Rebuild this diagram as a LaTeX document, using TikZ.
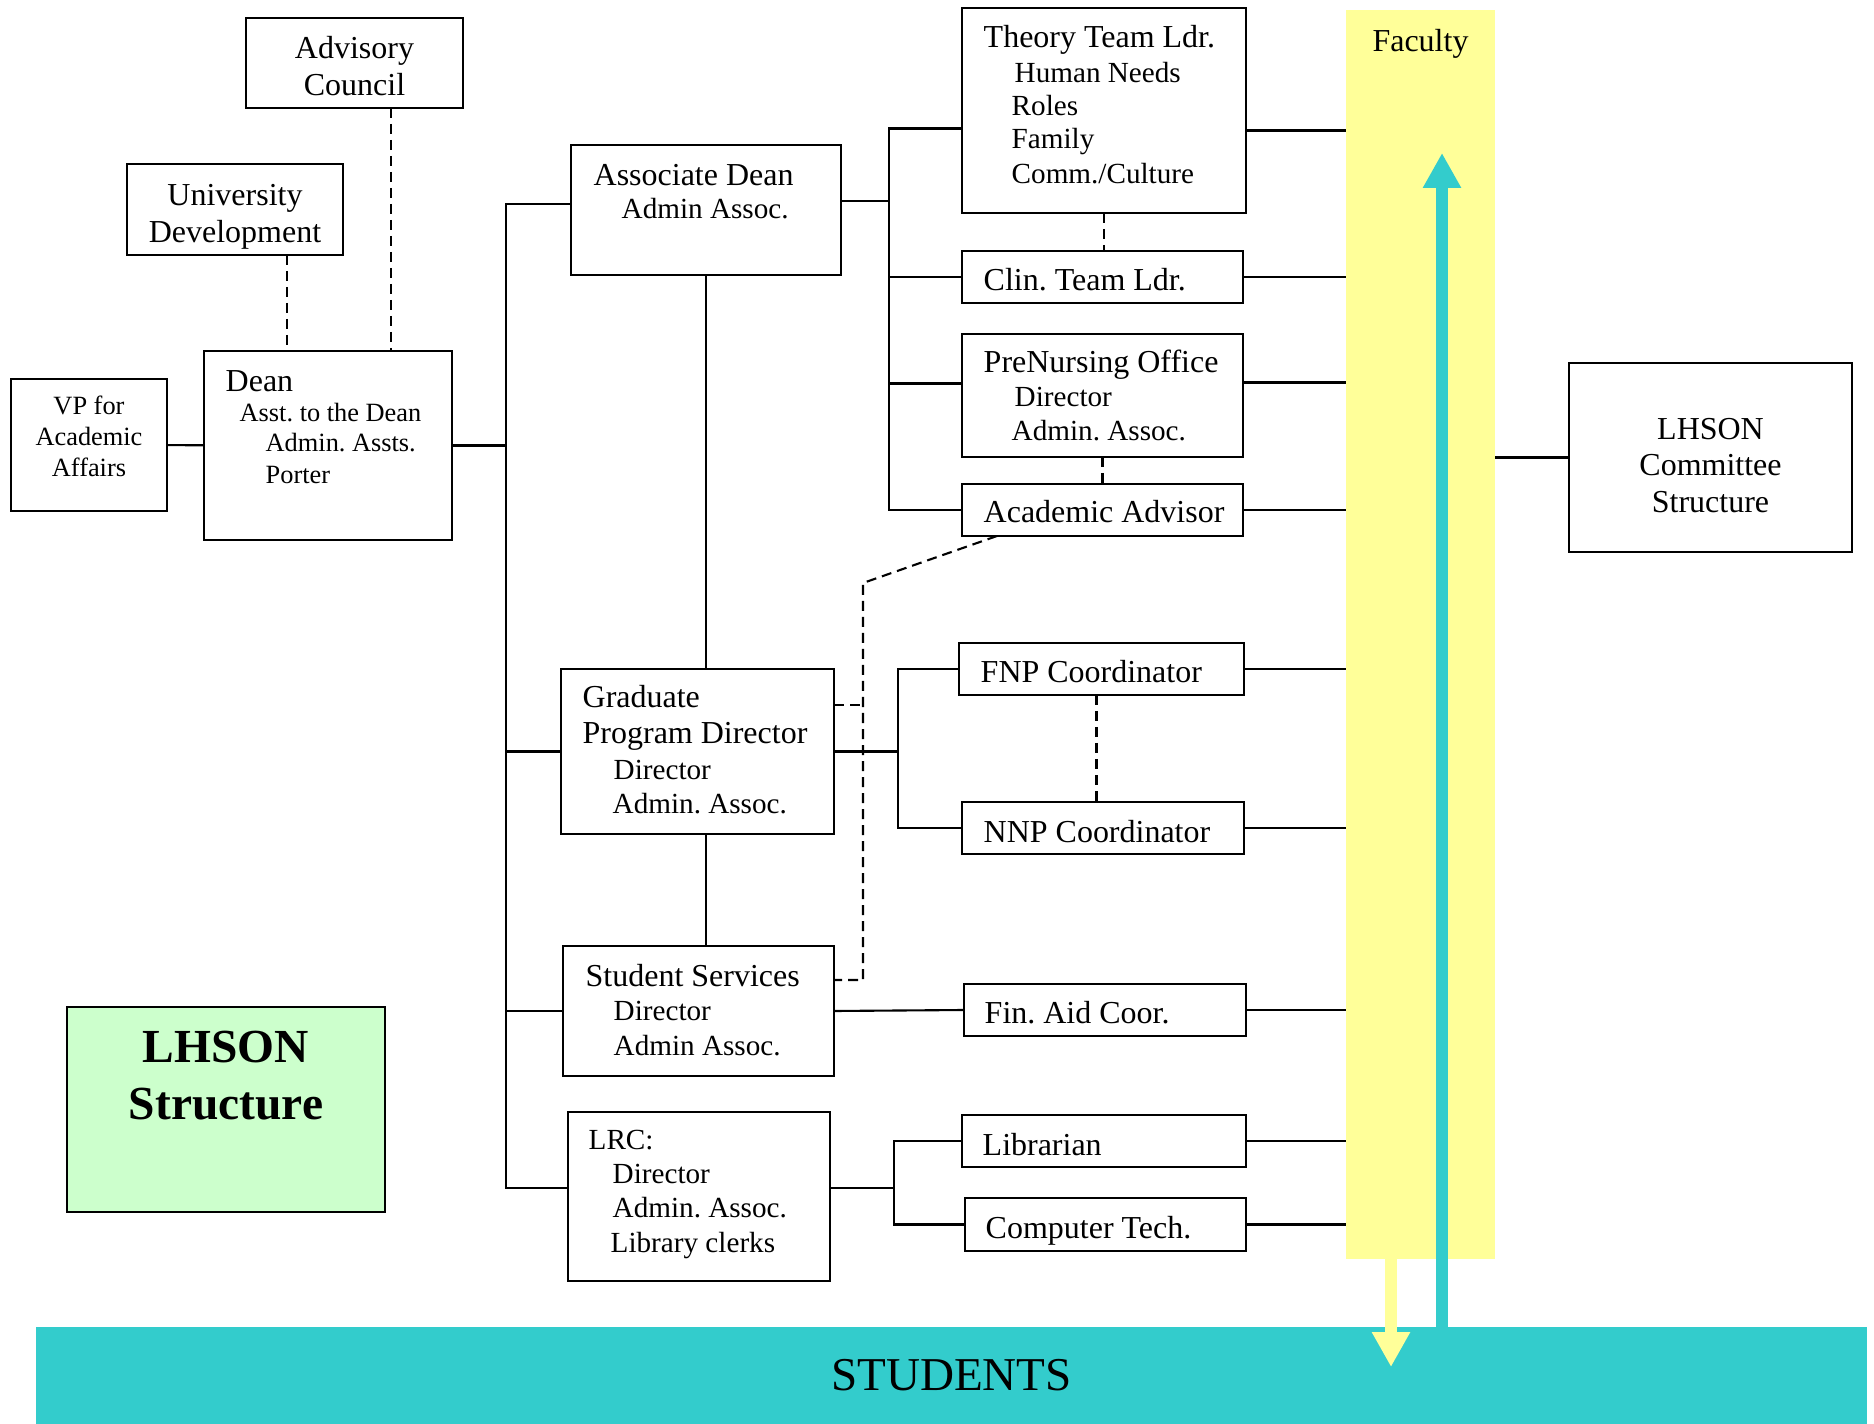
\documentclass[tikz,border=0pt]{standalone}
\usepackage{fontspec}
\setmainfont{Liberation Serif}
\usetikzlibrary{arrows.meta}
\definecolor{seafoam}{HTML}{33CCCC}
\definecolor{paleyellow}{HTML}{FFFF99}
\definecolor{mint}{HTML}{CCFFCC}
\tikzset{
  unit/.style={draw,line width=0.8pt,inner sep=0pt,outer sep=0pt},
  unithead/.style={font=\fontsize{9.1}{10.5}\selectfont},
  unitsub/.style={font=\fontsize{8.3}{10}\selectfont},
  unitsmall/.style={font=\fontsize{7.5}{8.8}\selectfont},
  unittext/.style={align=center,inner sep=0pt},
  link/.style={line width=0.6pt},
  dotlink/.style={line width=0.6pt,dash pattern=on 0.1cm off 0.06cm},
  flow/.style={line width=0.12cm,-{Triangle[width=0.36cm,length=0.35cm]}}
}
% box: name, left, top, width, height, style, text
\newcommand{\orgunit}[7]{%
  \node[unit,#6,minimum width=#4cm,minimum height=#5cm,anchor=north west]
        (#1) at (#2,#3) {#7};
}
% one text line: name, left, baseline, style, text
\newcommand{\unitline}[5]{%
  \node[#4,anchor=base west,inner sep=0pt] (#1) at (#2,#3) {#5};
}
\begin{document}
\frenchspacing
\begin{tikzpicture}
  \useasboundingbox (0,0) rectangle (18.74,-14.24);
  % bands
  \orgunit{faculty}{13.46}{-0.10}{1.49}{12.49}{draw=none,fill=paleyellow}{}
  \orgunit{students}{0.36}{-13.27}{18.31}{0.97}{draw=none,fill=seafoam,font=\fontsize{13.4}{16}\selectfont}{STUDENTS}
  \node[unithead,anchor=base,inner sep=0pt] (faculty-t) at (14.205,-0.52) {Faculty};
  % boxes
  \orgunit{ac}{2.46}{-0.18}{2.17}{0.90}{}{}
  \orgunit{ud}{1.27}{-1.64}{2.16}{0.91}{}{}
  \orgunit{vp}{0.11}{-3.79}{1.56}{1.32}{}{}
  \orgunit{dean}{2.04}{-3.51}{2.48}{1.89}{}{}
  \orgunit{ad}{5.71}{-1.45}{2.70}{1.30}{}{}
  \orgunit{theory}{9.62}{-0.08}{2.84}{2.05}{}{}
  \orgunit{clin}{9.62}{-2.51}{2.81}{0.52}{}{}
  \orgunit{pren}{9.62}{-3.34}{2.81}{1.23}{}{}
  \orgunit{aa}{9.62}{-4.84}{2.81}{0.52}{}{}
  \orgunit{grad}{5.61}{-6.69}{2.73}{1.65}{}{}
  \orgunit{fnp}{9.59}{-6.43}{2.85}{0.52}{}{}
  \orgunit{nnp}{9.62}{-8.02}{2.82}{0.52}{}{}
  \orgunit{ss}{5.63}{-9.46}{2.71}{1.30}{}{}
  \orgunit{finaid}{9.64}{-9.84}{2.82}{0.52}{}{}
  \orgunit{lrc}{5.68}{-11.12}{2.62}{1.69}{}{}
  \orgunit{libr}{9.62}{-11.15}{2.84}{0.52}{}{}
  \orgunit{comp}{9.65}{-11.98}{2.81}{0.53}{}{}
  \orgunit{committee}{15.69}{-3.63}{2.83}{1.89}{line width=0.5pt}{}
  \orgunit{lhson}{0.67}{-10.07}{3.18}{2.05}{fill=mint}{}
  % centred texts
  \node[unittext,unithead] (ac-t) at ([yshift=-0.035cm]ac.center) {Advisory\\Council};
  \node[unittext,unithead] (ud-t) at ([yshift=-0.07cm]ud.center) {University\\Development};
  \node[unittext,unitsmall] (vp-t) at ([yshift=0.085cm]vp.center) {VP for\\Academic\\Affairs};
  \node[unittext,unithead] (committee-t) at ([yshift=-0.08cm]committee.center) {LHSON\\Committee\\Structure};
  \node[unittext,anchor=north,font=\bfseries\fontsize{13.5}{16.2}\selectfont]
        (lhson-t) at (2.26,-10.30) {LHSON\\Structure};
  % box texts
  \unitline{dean-1}{2.25}{-3.92}{unithead}{Dean}
  \unitline{dean-2}{2.39}{-4.22}{unitsmall}{Asst. to the Dean}
  \unitline{dean-3}{2.65}{-4.52}{unitsmall}{Admin. Assts.}
  \unitline{dean-4}{2.65}{-4.84}{unitsmall}{Porter}
  \unitline{ad-1}{5.93}{-1.86}{unithead}{Associate Dean}
  \unitline{ad-2}{6.21}{-2.19}{unitsub}{Admin Assoc.}
  \unitline{theory-1}{9.83}{-0.48}{unithead}{Theory Team Ldr.}
  \unitline{theory-2}{10.14}{-0.83}{unitsub}{Human Needs}
  \unitline{theory-3}{10.11}{-1.16}{unitsub}{Roles}
  \unitline{theory-4}{10.11}{-1.49}{unitsub}{Family}
  \unitline{theory-5}{10.11}{-1.84}{unitsub}{Comm./Culture}
  \unitline{clin-1}{9.83}{-2.91}{unithead}{Clin. Team Ldr.}
  \unitline{pren-1}{9.83}{-3.73}{unithead}{PreNursing Office}
  \unitline{pren-2}{10.14}{-4.07}{unitsub}{Director}
  \unitline{pren-3}{10.11}{-4.41}{unitsub}{Admin. Assoc.}
  \unitline{aa-1}{9.83}{-5.23}{unithead}{Academic Advisor}
  \unitline{grad-1}{5.82}{-7.08}{unithead}{Graduate}
  \unitline{grad-2}{5.82}{-7.44}{unithead}{Program Director}
  \unitline{grad-3}{6.13}{-7.80}{unitsub}{Director}
  \unitline{grad-4}{6.12}{-8.13}{unitsub}{Admin. Assoc.}
  \unitline{fnp-1}{9.80}{-6.83}{unithead}{FNP Coordinator}
  \unitline{nnp-1}{9.83}{-8.42}{unithead}{NNP Coordinator}
  \unitline{ss-1}{5.85}{-9.86}{unithead}{Student Services}
  \unitline{ss-2}{6.13}{-10.20}{unitsub}{Director}
  \unitline{ss-3}{6.13}{-10.55}{unitsub}{Admin Assoc.}
  \unitline{finaid-1}{9.84}{-10.23}{unithead}{Fin. Aid Coor.}
  \unitline{lrc-1}{5.88}{-11.49}{unitsub}{LRC:}
  \unitline{lrc-2}{6.12}{-11.83}{unitsub}{Director}
  \unitline{lrc-3}{6.12}{-12.17}{unitsub}{Admin. Assoc.}
  \unitline{lrc-4}{6.10}{-12.52}{unitsub}{Library clerks}
  \unitline{libr-1}{9.82}{-11.55}{unithead}{Librarian}
  \unitline{comp-1}{9.85}{-12.38}{unithead}{Computer Tech.}
  % trunk and brackets
  \coordinate (trunk) at (5.06,0);
  \coordinate (brA) at (8.89,0);
  \coordinate (brB) at (8.98,0);
  \coordinate (brC) at (8.94,0);
  \coordinate (jog) at (8.63,-5.83);
  \draw[link] (vp) -- (dean);
  \draw[link] (dean.east) -- (dean.east -| trunk);
  \draw[link] ([yshift=0.06cm]ad.west) -| ([yshift=0.085cm]lrc.west -| trunk) -- ([yshift=0.085cm]lrc.west);
  \draw[link] (grad.west) -- (grad.west -| trunk);
  \draw[link] (ss.west) -- (ss.west -| trunk);
  \draw[link] (ad.south) -- (ad.south |- grad.north);
  \draw[link] (ad.south |- grad.south) -- (ad.south |- ss.north);
  \draw[link] ([yshift=0.09cm]ad.east) -- ([yshift=0.09cm]ad.east -| brA);
  \draw[link] ([yshift=-0.18cm]theory.west) -| (brA |- aa.west) -- (aa.west);
  \draw[link] (clin.west) -- (clin.west -| brA);
  \draw[link] ([yshift=0.12cm]pren.west) -- ([yshift=0.12cm]pren.west -| brA);
  \draw[link] (grad.east) -- (grad.east -| brB);
  \draw[link] (fnp.west) -| (brB |- nnp.west) -- (nnp.west);
  \draw[link] (ss.east) -- (finaid.west);
  \draw[link] ([yshift=0.085cm]lrc.east) -- ([yshift=0.085cm]lrc.east -| brC);
  \draw[link] (libr.west) -| (brC |- comp.west) -- (comp.west);
  % into the faculty band
  \draw[link] ([yshift=-0.2cm]theory.east) -- ([yshift=-0.2cm]theory.east -| faculty.west);
  \draw[link] (clin.east) -- (clin.east -| faculty.west);
  \draw[link] ([yshift=0.13cm]pren.east) -- ([yshift=0.13cm]pren.east -| faculty.west);
  \draw[link] (aa.east) -- (aa.east -| faculty.west);
  \draw[link] (fnp.east) -- (fnp.east -| faculty.west);
  \draw[link] (nnp.east) -- (nnp.east -| faculty.west);
  \draw[link] (finaid.east) -- (finaid.east -| faculty.west);
  \draw[link] (libr.east) -- (libr.east -| faculty.west);
  \draw[link] (comp.east) -- (comp.east -| faculty.west);
  \draw[link] (committee.west) -- (committee.west -| faculty.east);
  % dashed ties
  \draw[dotlink] ([xshift=0.52cm]ud.south) -- ([xshift=0.52cm]ud.south |- dean.north);
  \draw[dotlink] ([xshift=0.365cm]ac.south) -- ([xshift=0.365cm]ac.south |- dean.north);
  \draw[dotlink] (theory.south) -- (theory.south |- clin.north);
  \draw[dotlink] (pren.south) -- (pren.south |- aa.north);
  \draw[dotlink] ([xshift=-0.05cm]fnp.south) -- ([xshift=-0.05cm]fnp.south |- nnp.north);
  \draw[dotlink] ([xshift=-1.055cm]aa.south) -- (jog) |- ([yshift=-0.34cm]ss.north east);
  \draw[dotlink] ([yshift=0.465cm]grad.east) -- ([yshift=0.465cm]grad.east -| jog);
  % flows
  \coordinate (downtip) at (13.91,-13.67);
  \coordinate (uptip) at (14.42,-1.53);
  \draw[flow,paleyellow] (downtip |- faculty.south) -- (downtip);
  \draw[flow,seafoam] (uptip |- students.north) -- (uptip);
\end{tikzpicture}
\end{document}
